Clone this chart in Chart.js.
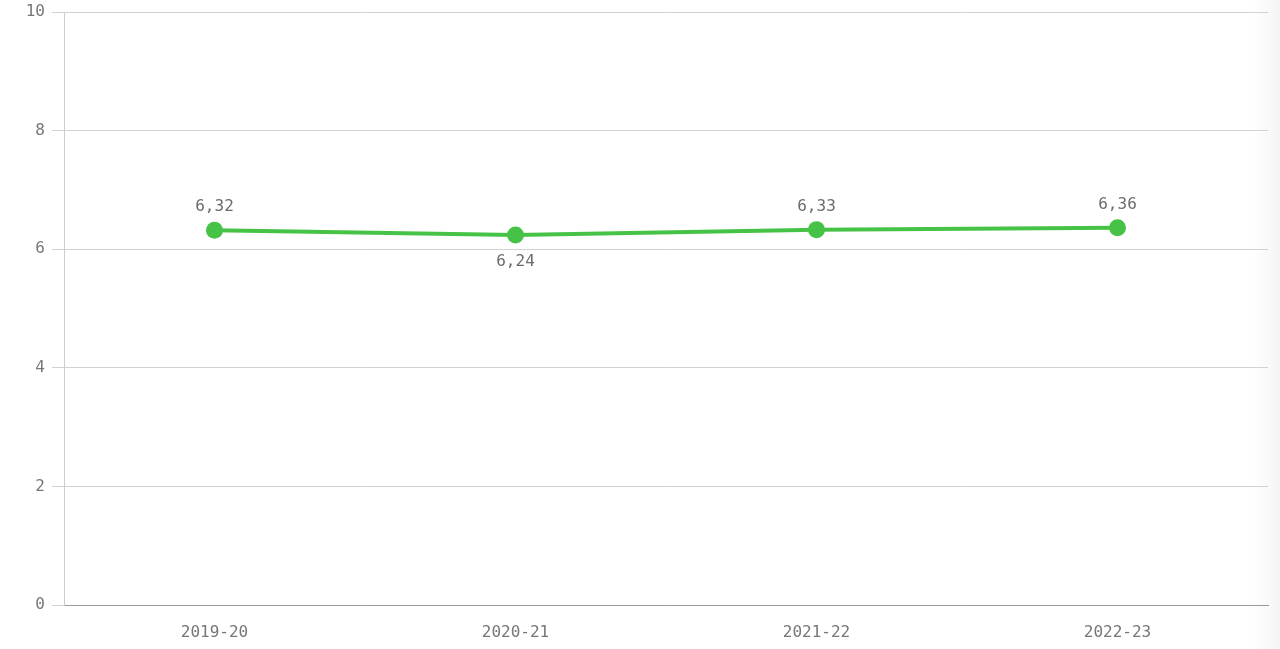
<!DOCTYPE html>
<html>
<head>
<meta charset="utf-8">
<script src="https://cdn.jsdelivr.net/npm/chart.js@4"></script>
<style>
  html, body { margin: 0; padding: 0; }
  body { width: 1280px; height: 649px; background: linear-gradient(to right, #fff 0, #fff 1252px, #f4f4f4 1280px); }
  #wrap { position: relative; width: 1280px; height: 649px; }
</style>
</head>
<body>
<div id="wrap"><canvas id="lineChart"></canvas></div>
<script>
var periodos = ['2019-20', '2020-21', '2021-22', '2022-23'];
var valores = [6.32, 6.24, 6.33, 6.36];
var ticksY = [0, 2, 4, 6, 8, 10];

var fuente = '"DejaVu Sans Mono", monospace';

// etiquetas de valor encima/debajo de cada punto
var etiquetas = {
    id: 'etiquetas',
    afterDatasetsDraw: function(chart) {
        var ctx = chart.ctx;
        var meta = chart.getDatasetMeta(0);
        ctx.save();
        ctx.font = '16px ' + fuente;
        ctx.fillStyle = '#6b6b6b';
        ctx.textAlign = 'center';
        ctx.textBaseline = 'middle';
        meta.data.forEach(function(p, i) {
            var v = valores[i];
            var prev = i > 0 ? valores[i - 1] : null;
            var next = i < valores.length - 1 ? valores[i + 1] : null;
            var abajo = (prev === null || v < prev) && (next === null || v < next);
            var txt = v.toFixed(2).replace('.', ',');
            ctx.fillText(txt, p.x, abajo ? p.y + 27 : p.y - 23);
        });
        ctx.restore();
    }
};

new Chart(document.getElementById('lineChart').getContext('2d'), {
    type: 'line',
    data: {
        labels: periodos,
        datasets: [{
            data: valores,
            borderColor: '#46c346',
            backgroundColor: '#46c346',
            borderWidth: 4,
            pointRadius: 8.5,
            pointHoverRadius: 8.5,
            pointBorderWidth: 0,
            tension: 0
        }]
    },
    options: {
        responsive: true,
        maintainAspectRatio: false,
        animation: false,
        layout: { padding: { top: 12, right: 12, left: 0, bottom: 0 } },
        plugins: { legend: { display: false }, tooltip: { enabled: false } },
        scales: {
            x: {
                offset: true,
                grid: { display: false, drawTicks: false },
                border: { color: '#9a9a9a', width: 1 },
                ticks: { color: '#777', padding: 18, font: { family: fuente, size: 16 } },
                afterFit: function(s) { s.height = 44; }
            },
            y: {
                min: 0,
                max: 10,
                afterBuildTicks: function(s) { s.ticks = ticksY.map(function(v) { return { value: v }; }); },
                grid: { color: '#d2d2d2', tickLength: 12 },
                border: { color: '#cccccc' },
                ticks: { color: '#777', padding: 7, font: { family: fuente, size: 16 } },
                afterFit: function(s) { s.width = 64; s.paddingTop = 0; s.paddingBottom = 0; }
            }
        }
    },
    plugins: [etiquetas]
});
</script>
</body>
</html>
